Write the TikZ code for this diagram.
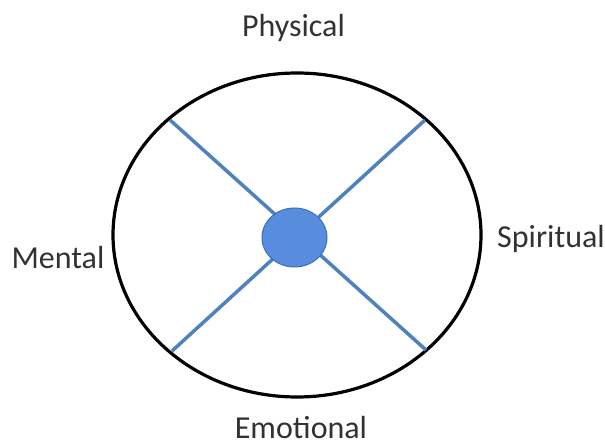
\documentclass[tikz,border=0pt]{standalone}
\usepackage{fontspec}
\usetikzlibrary{shapes.geometric}
\setmainfont{Carlito}
\definecolor{spoke}{RGB}{79,129,189}
\definecolor{hubfill}{RGB}{88,140,220}
\definecolor{hubedge}{RGB}{60,110,190}
\definecolor{txt}{RGB}{50,50,50}
\begin{document}
\begin{tikzpicture}[x=1pt,y=1pt,
  lbl/.style={text=txt,font=\fontsize{32}{36}\selectfont,inner sep=0pt,anchor=base},
  spokeline/.style={draw=spoke,line width=3.5pt}]
\useasboundingbox (0,0) rectangle (605,445);
\node[ellipse,draw,line width=3.2pt,minimum width=368pt,minimum height=324pt,inner sep=0pt] (ring) at (297,210) {};
\coordinate (tl) at (170,325);
\coordinate (tr) at (425,325);
\coordinate (bl) at (172,94);
\coordinate (br) at (426,95);
\draw[spokeline] (tl) -- (br);
\draw[spokeline] (tr) -- (bl);
\node[ellipse,fill=hubfill,draw=hubedge,line width=1pt,minimum width=65pt,minimum height=59pt,inner sep=0pt] (hub) at (294.5,207.5) {};
\node[lbl] (phys) at (293.5,408) {Physical};
\node[lbl] (spir) at (551,197) {Spiritual};
\node[lbl] (ment) at (58,177) {Mental};
\node[lbl] (emot) at (301,6.5) {Emotional};
\end{tikzpicture}
\end{document}
